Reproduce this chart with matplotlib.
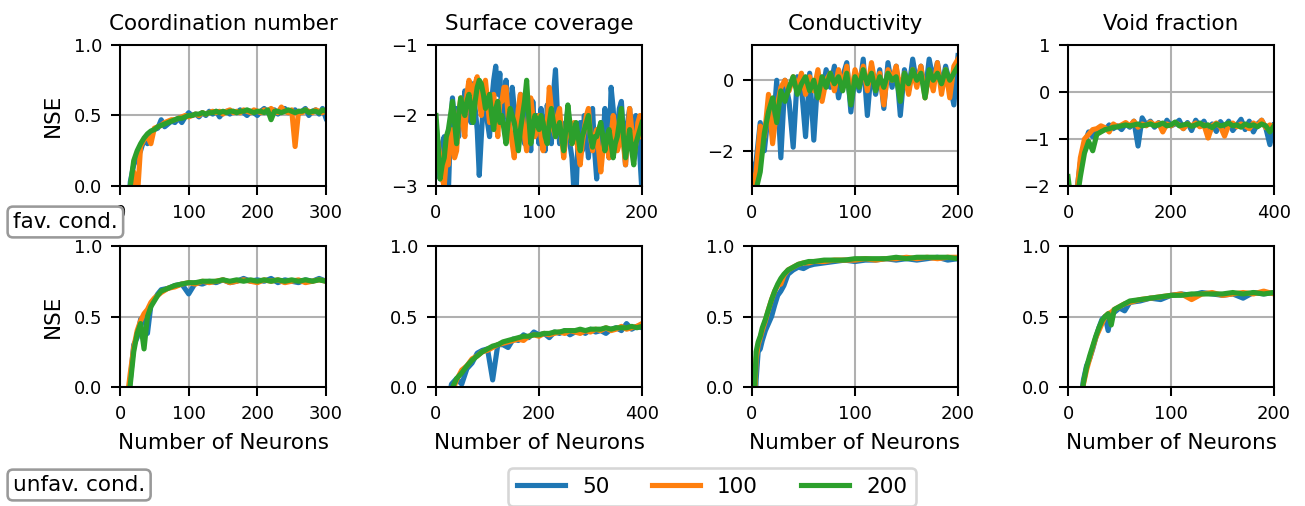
import matplotlib
matplotlib.use("Agg")
import matplotlib.pyplot as plt
import numpy as np

# ----------------------------- data -----------------------------

SERIES = ["50", "100", "200"]
COLORS = ["#1f77b4", "#ff7f0e", "#2ca02c"]

# fav. cond. -- Coordination number
x_coord_fav = np.arange(10, 301, 5)
coord_fav_50 = [-0.3, 0.03, 0.15, 0.2, 0.25, 0.33, 0.3, 0.38, 0.4, 0.41, 0.47, 0.42, 0.44, 0.46, 0.45,
                0.48, 0.45, 0.49, 0.52, 0.5, 0.51, 0.49, 0.52, 0.5, 0.53, 0.51, 0.53, 0.49, 0.52, 0.53,
                0.51, 0.53, 0.52, 0.54, 0.52, 0.5, 0.53, 0.52, 0.5, 0.53, 0.55, 0.52, 0.53, 0.54, 0.51,
                0.53, 0.55, 0.52, 0.53, 0.54, 0.51, 0.53, 0.55, 0.5, 0.53, 0.54, 0.51, 0.55, 0.48]
coord_fav_100 = [-0.5, -0.3, 0.1, -0.1, 0.28, 0.33, 0.35, 0.3, 0.41, 0.42, 0.43, 0.45, 0.46, 0.47, 0.47,
                 0.48, 0.49, 0.5, 0.49, 0.5, 0.51, 0.5, 0.52, 0.51, 0.52, 0.53, 0.52, 0.53, 0.51, 0.53,
                 0.54, 0.52, 0.53, 0.52, 0.54, 0.53, 0.52, 0.54, 0.53, 0.52, 0.54, 0.53, 0.55, 0.53, 0.52,
                 0.56, 0.53, 0.52, 0.54, 0.28, 0.53, 0.52, 0.54, 0.53, 0.52, 0.54, 0.53, 0.52, 0.54]
coord_fav_200 = [-0.4, 0.0, 0.18, 0.25, 0.3, 0.34, 0.37, 0.39, 0.4, 0.42, 0.43, 0.44, 0.45, 0.46, 0.47,
                 0.48, 0.48, 0.49, 0.5, 0.5, 0.51, 0.51, 0.52, 0.51, 0.52, 0.52, 0.53, 0.52, 0.53, 0.52,
                 0.53, 0.53, 0.52, 0.53, 0.53, 0.54, 0.53, 0.52, 0.53, 0.53, 0.52, 0.54, 0.47, 0.53, 0.53,
                 0.52, 0.53, 0.54, 0.53, 0.52, 0.53, 0.53, 0.54, 0.52, 0.53, 0.53, 0.52, 0.54, 0.53]

# fav. cond. -- Surface coverage
x_surf_fav = np.arange(0, 201, 2)
surf_fav_50 = [-2.1, -2.5, -2.9, -2.4, -2.3, -2.7, -3.1, -2.2, -1.75, -2.1, -1.9, -2.3, -1.8, -2.0,
               -1.65, -1.9, -1.75, -2.1, -1.55, -1.9, -2.2, -2.85, -2.3, -1.8, -1.6, -2.1, -2.3, -1.8,
               -1.5, -1.3, -1.7, -1.4, -2.1, -1.9, -1.5, -2.2, -2.0, -1.6, -1.9, -2.3, -2.0, -1.7,
               -2.2, -2.4, -1.9, -2.1, -2.5, -1.8, -2.3, -2.0, -2.4, -1.9, -2.3, -2.5, -1.85, -2.2,
               -2.4, -1.7, -1.35, -2.0, -2.4, -2.1, -2.5, -2.2, -1.9, -2.4, -2.6, -3.1, -3.1, -2.3,
               -2.1, -2.5, -2.0, -2.3, -2.6, -2.2, -1.9, -2.5, -2.9, -2.3, -2.1, -2.4, -1.9, -2.2,
               -2.6, -1.6, -1.9, -2.4, -2.2, -1.9, -1.8, -2.3, -2.7, -2.1, -1.9, -2.3, -2.5, -2.0,
               -2.2, -2.6, -3.1]
surf_fav_100 = [-2.2, -2.4, -2.6, -2.9, -3.0, -2.6, -2.7, -2.3, -2.2, -2.6, -2.5, -2.0, -1.75, -2.1,
                -2.3, -1.7, -1.5, -1.6, -1.9, -1.55, -1.45, -1.8, -2.0, -1.7, -1.5, -1.8, -2.1, -1.9,
                -1.7, -2.0, -2.3, -1.8, -1.8, -1.6, -1.6, -2.0, -2.2, -2.4, -2.6, -2.2, -1.9, -1.7,
                -2.0, -2.3, -2.5, -2.1, -1.75, -2.0, -2.3, -2.1, -2.0, -2.3, -2.5, -2.2, -2.1, -1.6,
                -1.9, -2.2, -2.3, -2.0, -1.9, -2.3, -2.6, -2.3, -2.0, -2.2, -2.4, -2.1, -2.3, -2.5,
                -2.7, -2.4, -2.2, -2.0, -1.9, -2.3, -2.5, -2.3, -2.2, -2.5, -2.8, -2.5, -2.3, -2.4,
                -2.6, -2.3, -2.0, -2.2, -2.5, -2.4, -2.2, -2.4, -2.7, -2.3, -1.9, -2.2, -2.6, -2.4,
                -2.1, -2.0, -2.3]
surf_fav_200 = [-2.0, -2.4, -2.9, -2.7, -2.6, -2.3, -2.2, -2.0, -1.8, -2.1, -2.4, -2.0, -1.75, -1.9,
                -2.0, -1.8, -1.7, -1.9, -2.1, -1.8, -1.6, -1.5, -1.55, -1.7, -1.9, -1.8, -1.7, -2.0,
                -2.2, -1.9, -1.8, -2.1, -2.0, -2.2, -2.4, -2.1, -1.9, -2.0, -2.1, -2.3, -2.5, -2.2,
                -2.0, -1.8, -1.5, -2.0, -2.4, -2.2, -2.0, -2.1, -2.2, -2.0, -2.1, -2.3, -2.4, -2.1,
                -1.9, -2.1, -2.3, -2.2, -2.1, -2.3, -2.5, -2.2, -1.85, -2.1, -2.4, -2.3, -2.1, -2.3,
                -2.5, -2.3, -2.2, -2.1, -2.0, -2.3, -2.45, -2.3, -2.3, -2.2, -2.1, -2.3, -2.5, -2.3,
                -2.2, -2.4, -2.6, -2.4, -2.3, -2.1, -1.9, -2.3, -2.6, -2.4, -2.2, -2.5, -2.7, -2.4,
                -2.3, -2.2, -2.1]

# fav. cond. -- Conductivity
x_cond_fav = np.arange(0, 201, 4)
cond_fav_50 = [-2.6, -2.3, -1.2, -2.0, -0.9, -1.6, 0.0, -2.2, 0.0, -0.6, -1.9, 0.1, -0.2, -1.6, 0.2,
               -1.7, 0.1, -0.4, 0.3, -0.2, 0.4, -0.5, 0.1, 0.5, -0.9, 0.2, -0.3, 0.6, -1.0, 0.4, -0.4,
               0.3, -0.8, 0.5, -0.2, 0.4, -1.0, 0.3, -0.3, 0.6, -0.1, 0.4, -0.4, 0.6, 0.0, 0.5, -0.2,
               0.4, -0.1, -0.7, 0.7]
cond_fav_100 = [-3.1, -2.6, -1.3, -1.6, -0.4, -1.8, -0.8, -0.2, 0.0, -0.3, 0.1, -0.2, 0.2, -0.4, 0.1,
                -0.3, 0.3, -0.6, 0.0, 0.2, -0.3, 0.3, -0.2, 0.4, -0.5, 0.3, -0.1, 0.4, -0.3, 0.5, -0.2,
                0.2, -0.7, 0.3, 0.0, 0.4, -0.3, 0.2, -0.4, 0.3, -0.2, 0.4, -0.5, 0.2, -0.3, 0.5, -0.4,
                0.3, -0.5, 0.4, 0.6]
cond_fav_200 = [-3.3, -3.1, -2.6, -1.5, -0.9, -0.5, -1.2, -0.3, -0.6, -0.2, 0.1, -0.4, -0.1, 0.1, -0.3,
                0.0, -0.5, 0.1, -0.2, 0.2, -0.1, 0.1, -0.3, 0.2, -0.7, 0.1, -0.2, 0.3, -0.1, 0.2, -0.3,
                0.1, -0.2, 0.2, 0.0, 0.1, -0.6, 0.2, -0.1, 0.3, 0.0, 0.2, -0.5, 0.3, 0.0, 0.2, -0.1,
                0.3, 0.0, 0.2, 0.4]

# fav. cond. -- Void fraction
x_void_fav = np.arange(0, 401, 8)
void_fav_50 = [-3.0, -2.6, -2.2, -1.5, -1.1, -0.85, -0.95, -0.8, -0.75, -0.8, -0.7, -0.78, -0.72, -0.8,
               -0.68, -0.75, -0.62, -1.15, -0.55, -0.7, -0.62, -0.75, -0.65, -0.82, -0.6, -0.72, -0.68,
               -0.6, -0.78, -0.65, -0.82, -0.6, -0.73, -0.62, -0.8, -0.68, -0.84, -0.63, -0.75, -0.62,
               -0.82, -0.7, -0.58, -0.8, -0.62, -0.85, -0.68, -0.6, -0.76, -1.12, -0.7]
void_fav_100 = [-3.0, -2.8, -2.3, -1.4, -1.0, -0.9, -0.8, -0.78, -0.72, -0.76, -0.85, -0.68, -0.74, -0.7,
                -0.65, -0.72, -0.62, -0.75, -0.68, -0.72, -0.64, -0.7, -0.66, -0.85, -0.68, -0.72, -0.65,
                -0.7, -0.78, -0.68, -0.72, -0.66, -0.74, -0.7, -0.98, -0.72, -0.66, -0.74, -0.94, -0.7,
                -0.66, -0.74, -0.68, -0.72, -0.78, -0.66, -0.72, -0.6, -0.76, -0.7, -0.74]
void_fav_200 = [-1.8, -2.5, -2.4, -1.8, -1.3, -1.05, -1.25, -0.9, -0.85, -0.8, -0.78, -0.75, -0.74, -0.72,
                -0.7, -0.72, -0.7, -0.68, -0.72, -0.7, -0.68, -0.72, -0.7, -0.66, -0.72, -0.7, -0.64,
                -0.72, -0.7, -0.68, -0.73, -0.7, -0.66, -0.72, -0.7, -0.76, -0.68, -0.72, -0.7, -0.66,
                -0.72, -0.7, -0.75, -0.68, -0.72, -0.7, -0.74, -0.68, -0.72, -0.85, -0.72]

# unfav. cond. -- Coordination number
x_coord_unf = [10, 15, 20, 25, 30, 35, 40, 45, 50, 55, 60, 70, 80, 90, 100, 110, 120, 130, 140, 150,
               160, 170, 180, 190, 200, 210, 220, 230, 240, 250, 260, 270, 280, 290, 300]
coord_unf_50 = [-0.2, 0.05, 0.3, 0.35, 0.48, 0.5, 0.38, 0.58, 0.62, 0.66, 0.69, 0.7, 0.72, 0.73, 0.66,
                0.74, 0.73, 0.75, 0.74, 0.76, 0.74, 0.75, 0.77, 0.75, 0.76, 0.75, 0.77, 0.74, 0.76, 0.75,
                0.74, 0.76, 0.75, 0.77, 0.75]
coord_unf_100 = [-0.1, 0.1, 0.28, 0.4, 0.47, 0.52, 0.55, 0.6, 0.63, 0.65, 0.67, 0.7, 0.71, 0.73, 0.74,
                 0.73, 0.75, 0.74, 0.75, 0.76, 0.74, 0.75, 0.76, 0.75, 0.74, 0.76, 0.75, 0.76, 0.74, 0.75,
                 0.76, 0.74, 0.75, 0.76, 0.75]
coord_unf_200 = [-0.2, 0.02, 0.25, 0.38, 0.45, 0.27, 0.5, 0.57, 0.61, 0.65, 0.68, 0.7, 0.72, 0.73, 0.74,
                 0.74, 0.75, 0.75, 0.75, 0.76, 0.75, 0.76, 0.75, 0.76, 0.75, 0.76, 0.75, 0.76, 0.75, 0.76,
                 0.75, 0.76, 0.75, 0.76, 0.75]

# unfav. cond. -- Surface coverage
x_surf_unf = np.arange(20, 401, 10)
surf_unf_50 = [-0.2, 0.02, 0.06, 0.02, 0.13, 0.17, 0.24, 0.26, 0.27, 0.05, 0.3, 0.3, 0.28, 0.34, 0.33,
               0.37, 0.35, 0.39, 0.37, 0.38, 0.35, 0.39, 0.38, 0.4, 0.37, 0.39, 0.4, 0.38, 0.41, 0.39,
               0.4, 0.38, 0.41, 0.42, 0.4, 0.45, 0.41, 0.43, 0.42]
surf_unf_100 = [-0.3, -0.05, 0.05, 0.12, 0.15, 0.2, 0.22, 0.25, 0.26, 0.28, 0.3, 0.31, 0.32, 0.33, 0.34,
                0.33, 0.36, 0.37, 0.36, 0.38, 0.37, 0.38, 0.39, 0.38, 0.4, 0.39, 0.38, 0.4, 0.39, 0.41,
                0.4, 0.42, 0.4, 0.41, 0.43, 0.41, 0.42, 0.43, 0.45]
surf_unf_200 = [-0.3, -0.02, 0.06, 0.1, 0.15, 0.19, 0.22, 0.25, 0.27, 0.29, 0.3, 0.32, 0.33, 0.34, 0.35,
                0.36, 0.36, 0.37, 0.37, 0.38, 0.38, 0.39, 0.39, 0.4, 0.4, 0.4, 0.41, 0.4, 0.41, 0.41,
                0.41, 0.42, 0.41, 0.42, 0.42, 0.42, 0.43, 0.42, 0.43]

# unfav. cond. -- Conductivity
x_cond_unf = [2, 4, 6, 8, 10, 13, 16, 19, 22, 25, 28, 31, 35, 40, 45, 50, 55, 60, 70, 80, 90, 100,
              110, 120, 130, 140, 150, 160, 170, 180, 190, 200]
cond_unf_50 = [-0.3, 0.05, 0.25, 0.27, 0.33, 0.4, 0.45, 0.5, 0.58, 0.65, 0.68, 0.72, 0.8, 0.83, 0.85,
               0.84, 0.86, 0.87, 0.88, 0.89, 0.9, 0.89, 0.9, 0.9, 0.91, 0.9, 0.91, 0.9, 0.91, 0.92,
               0.9, 0.91]
cond_unf_100 = [-0.2, 0.2, 0.3, 0.35, 0.4, 0.47, 0.55, 0.62, 0.68, 0.72, 0.73, 0.79, 0.83, 0.85, 0.87,
                0.88, 0.88, 0.89, 0.89, 0.9, 0.9, 0.9, 0.91, 0.9, 0.91, 0.91, 0.92, 0.91, 0.92, 0.91,
                0.92, 0.92]
cond_unf_200 = [-0.1, 0.25, 0.32, 0.36, 0.42, 0.48, 0.55, 0.62, 0.68, 0.73, 0.77, 0.8, 0.83, 0.85, 0.87,
                0.88, 0.89, 0.89, 0.9, 0.9, 0.9, 0.91, 0.91, 0.91, 0.91, 0.92, 0.91, 0.92, 0.92, 0.92,
                0.92, 0.91]

# unfav. cond. -- Void fraction
x_void_unf = [12, 15, 18, 21, 24, 27, 30, 33, 36, 39, 42, 45, 50, 55, 60, 70, 80, 90, 100, 110, 120,
              130, 140, 150, 160, 170, 180, 190, 200]
void_unf_50 = [-0.1, 0.05, 0.15, 0.2, 0.27, 0.35, 0.42, 0.48, 0.5, 0.4, 0.52, 0.53, 0.56, 0.54, 0.6,
               0.61, 0.63, 0.62, 0.65, 0.66, 0.65, 0.67, 0.66, 0.65, 0.66, 0.63, 0.67, 0.66, 0.67]
void_unf_100 = [-0.2, 0.02, 0.12, 0.2, 0.28, 0.35, 0.4, 0.45, 0.5, 0.52, 0.53, 0.55, 0.57, 0.59, 0.6,
                0.62, 0.63, 0.64, 0.65, 0.66, 0.62, 0.66, 0.67, 0.65, 0.66, 0.67, 0.66, 0.68, 0.66]
void_unf_200 = [-0.15, 0.03, 0.14, 0.22, 0.29, 0.36, 0.42, 0.47, 0.5, 0.52, 0.44, 0.55, 0.57, 0.59, 0.61,
                0.62, 0.63, 0.64, 0.65, 0.65, 0.66, 0.66, 0.66, 0.66, 0.67, 0.66, 0.67, 0.66, 0.67]

TITLES = ["Coordination number", "Surface coverage", "Conductivity", "Void fraction"]

# (x, [series...], xlim, xticks, ylim, yticks) per panel
PANELS = [
    [
        (x_coord_fav, [coord_fav_50, coord_fav_100, coord_fav_200], (0, 300), [0, 100, 200, 300], (0, 1), [0, 0.5, 1.0]),
        (x_surf_fav, [surf_fav_50, surf_fav_100, surf_fav_200], (0, 200), [0, 100, 200], (-3, -1), [-3, -2, -1]),
        (x_cond_fav, [cond_fav_50, cond_fav_100, cond_fav_200], (0, 200), [0, 100, 200], (-3, 1), [-2, 0]),
        (x_void_fav, [void_fav_50, void_fav_100, void_fav_200], (0, 400), [0, 200, 400], (-2, 1), [-2, -1, 0, 1]),
    ],
    [
        (x_coord_unf, [coord_unf_50, coord_unf_100, coord_unf_200], (0, 300), [0, 100, 200, 300], (0, 1), [0, 0.5, 1.0]),
        (x_surf_unf, [surf_unf_50, surf_unf_100, surf_unf_200], (0, 400), [0, 200, 400], (0, 1), [0, 0.5, 1.0]),
        (x_cond_unf, [cond_unf_50, cond_unf_100, cond_unf_200], (0, 200), [0, 100, 200], (0, 1), [0, 0.5, 1.0]),
        (x_void_unf, [void_unf_50, void_unf_100, void_unf_200], (0, 200), [0, 100, 200], (0, 1), [0, 0.5, 1.0]),
    ],
]

# ----------------------------------- figure -----------------------------------

DPI = 185
W, H = 1305, 506
plt.rcParams["font.size"] = 7
plt.rcParams["axes.titlesize"] = 8.4
plt.rcParams["axes.labelsize"] = 8.4

fig = plt.figure(figsize=(W / DPI, H / DPI), dpi=DPI)

col_left = [120, 436, 752, 1068]
ax_w = 206
row_top = [45, 246]
ax_h = 141

handles = []
for r, row in enumerate(PANELS):
    for c, (x, ys, xlim, xt, ylim, yt) in enumerate(row):
        ax = fig.add_axes([col_left[c] / W, 1 - (row_top[r] + ax_h) / H, ax_w / W, ax_h / H])
        for y, col, lab in zip(ys, COLORS, SERIES):
            assert len(x) == len(y), (r, c, lab, len(x), len(y))
            ln, = ax.plot(x, y, color=col, lw=2, label=lab)
            if r == 0 and c == 0:
                handles.append(ln)
        ax.set_xlim(*xlim)
        ax.set_ylim(*ylim)
        ax.set_xticks(xt)
        ax.set_yticks(yt)
        ax.grid(True)
        ax.set_axisbelow(True)
        if r == 0:
            ax.set_title(TITLES[c])
        else:
            ax.set_xlabel("Number of Neurons")
        if c == 0:
            ax.set_ylabel("NSE")

box = dict(boxstyle="round,pad=0.25", facecolor="white", edgecolor="#999999", lw=1.0)
fig.text(13 / W, 1 - 222 / H, "fav. cond.", fontsize=8.4, va="center", ha="left", bbox=box)
fig.text(13 / W, 1 - 485 / H, "unfav. cond.", fontsize=8.4, va="center", ha="left", bbox=box)

fig.legend(handles, SERIES, loc="center", bbox_to_anchor=(712 / W, 1 - 487 / H), ncol=3,
           fontsize=8.4, handlelength=2.2)

fig.savefig("out.png", dpi=DPI)
